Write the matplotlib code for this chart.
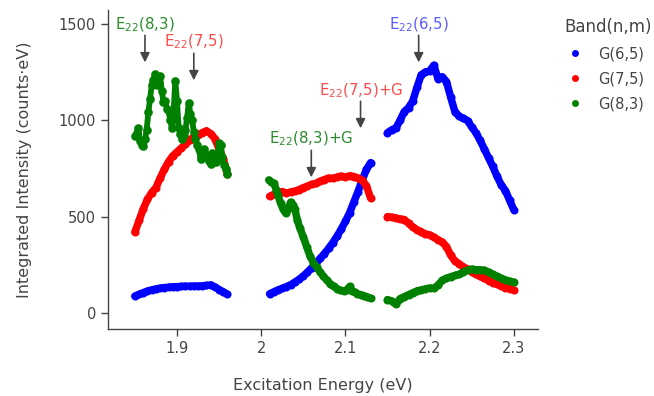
import matplotlib
matplotlib.use("Agg")
import matplotlib.pyplot as plt
from matplotlib.lines import Line2D

# excitation energy grids (eV) for the three laser windows
e_w1 = [1.850, 1.855, 1.860, 1.865, 1.870, 1.875, 1.880, 1.885, 1.890, 1.895, 1.900, 1.905,
        1.910, 1.915, 1.920, 1.925, 1.930, 1.935, 1.940, 1.945, 1.950, 1.955, 1.960]
e_w2 = [2.010, 2.015, 2.020, 2.025, 2.030, 2.035, 2.040, 2.045, 2.050, 2.055, 2.060, 2.065, 2.070,
        2.075, 2.080, 2.085, 2.090, 2.095, 2.100, 2.105, 2.110, 2.115, 2.120, 2.125, 2.130]
e_w3 = [2.150, 2.155, 2.160, 2.165, 2.170, 2.175, 2.180, 2.185, 2.190, 2.195, 2.200, 2.205, 2.210,
        2.215, 2.220, 2.225, 2.230, 2.235, 2.240, 2.245, 2.250, 2.255, 2.260, 2.265, 2.270, 2.275,
        2.280, 2.285, 2.290, 2.295, 2.300]

# G(6,5)
g65_w1 = [88, 97, 106, 114, 120, 125, 129, 132, 134, 136, 137, 138,
          139, 139, 140, 140, 141, 143, 146, 135, 122, 110, 97]
g65_w2 = [100, 110, 120, 128, 137, 147, 160, 175, 192, 212, 235, 258, 283,
          308, 335, 365, 398, 435, 475, 520, 575, 630, 690, 745, 780]
g65_w3 = [935, 950, 960, 1000, 1045, 1065, 1100, 1170, 1235, 1250, 1255, 1285, 1215,
          1225, 1200, 1120, 1045, 1020, 1010, 998, 965, 935, 895, 850, 805, 760,
          710, 665, 635, 585, 535]

# G(7,5)
g75_w1 = [420, 480, 540, 590, 625, 650, 700, 745, 785, 815, 835, 855,
          875, 895, 915, 925, 935, 945, 930, 905, 850, 800, 720]
g75_w2 = [605, 615, 625, 630, 622, 628, 632, 640, 650, 658, 668, 672, 683,
          692, 700, 698, 705, 710, 705, 712, 708, 700, 688, 660, 595]
g75_w3 = [500, 497, 492, 488, 485, 465, 445, 432, 422, 410, 405, 393, 380,
          368, 345, 300, 270, 255, 240, 228, 215, 200, 190, 180, 168, 158,
          150, 140, 132, 126, 120]

# G(8,3) (noisier, own grids in the first two windows)
e83_w1 = [1.850, 1.852, 1.854, 1.856, 1.858, 1.860, 1.862, 1.864, 1.866, 1.868, 1.870, 1.872,
          1.874, 1.876, 1.878, 1.880, 1.882, 1.884, 1.886, 1.888, 1.890, 1.892, 1.894, 1.896,
          1.898, 1.900, 1.902, 1.904, 1.906, 1.908, 1.910, 1.912, 1.914, 1.916, 1.918, 1.920,
          1.922, 1.924, 1.926, 1.928, 1.930, 1.932, 1.934, 1.936, 1.938, 1.940, 1.942, 1.944,
          1.946, 1.948, 1.950, 1.952, 1.954, 1.956, 1.958, 1.960]
g83_w1 = [920, 935, 960, 890, 870, 865, 900, 950, 1040, 1110, 1180, 1210,
          1240, 1180, 1200, 1230, 1150, 1095, 1100, 1060, 1050, 1000, 960, 1040,
          1205, 1100, 960, 930, 900, 925, 950, 1010, 1090, 1030, 1000, 940,
          900, 870, 850, 800, 830, 850, 810, 820, 790, 775, 830, 800,
          785, 800, 880, 870, 810, 770, 745, 720]
e83_w2 = [2.009, 2.012, 2.015, 2.018, 2.020, 2.023, 2.026, 2.029, 2.032, 2.035, 2.038, 2.040,
          2.043, 2.046, 2.050, 2.054, 2.058, 2.062, 2.066, 2.070, 2.074, 2.078, 2.082, 2.086,
          2.090, 2.094, 2.098, 2.102, 2.105, 2.108, 2.111, 2.114, 2.118, 2.122, 2.126, 2.130]
g83_w2 = [690, 680, 672, 640, 610, 570, 540, 518, 540, 575, 560, 540,
          480, 440, 395, 345, 295, 262, 238, 212, 190, 170, 152, 138,
          127, 118, 115, 120, 138, 115, 108, 100, 96, 90, 84, 76]
g83_w3 = [70, 62, 45, 75, 85, 95, 105, 115, 120, 125, 130, 128, 145,
          170, 180, 188, 195, 200, 212, 222, 228, 225, 224, 222, 212, 200,
          190, 180, 172, 165, 160]

series = [
    ("G(6,5)", "#0000ff", [(e_w1, g65_w1), (e_w2, g65_w2), (e_w3, g65_w3)]),
    ("G(7,5)", "#ff0000", [(e_w1, g75_w1), (e_w2, g75_w2), (e_w3, g75_w3)]),
    ("G(8,3)", "#008000", [(e83_w1, g83_w1), (e83_w2, g83_w2), (e_w3, g83_w3)]),
]

# peak labels: text, colour, energy, intensity at arrow tip
peaks = [
    ("E$_{22}$(8,3)", "#2a8c2a", 1.862, 1300),
    ("E$_{22}$(7,5)", "#ff4a4a", 1.920, 1207),
    ("E$_{22}$(8,3)+G", "#2a8c2a", 2.0595, 704),
    ("E$_{22}$(7,5)+G", "#ff4a4a", 2.118, 958),
    ("E$_{22}$(6,5)", "#5a5aff", 2.187, 1300),
]

grey = "#444444"
plt.rcParams["font.family"] = "DejaVu Sans"
plt.rcParams["mathtext.fontset"] = "dejavusans"

fig = plt.figure(figsize=(6.54, 3.96), dpi=100)
ax = fig.add_axes([0.165, 0.169, 0.658, 0.806])

for name, col, parts in series:
    for k, (xs, ys) in enumerate(parts):
        noisy = name == "G(8,3)" and k == 0
        ax.plot(xs, ys, color=col, lw=4.2 if noisy else 5.4, marker="o",
                ms=6.2 if noisy else 5.8, mec=col, mew=0,
                solid_capstyle="round", solid_joinstyle="round")

for txt, col, x, y in peaks:
    ax.annotate("", xy=(x, y), xytext=(0, 27), textcoords="offset pixels",
                arrowprops=dict(arrowstyle="-|>", color=grey, lw=1.2,
                                mutation_scale=14, shrinkA=0, shrinkB=0))
    ax.annotate(txt, xy=(x, y), xytext=(0, 38), textcoords="offset pixels",
                ha="center", va="center", color=col, fontsize=10.8)

ax.set_xlim(1.818, 2.329)
ax.set_ylim(-83, 1572)
ax.set_xticks([1.9, 2.0, 2.1, 2.2, 2.3])
ax.set_xticklabels(["1.9", "2", "2.1", "2.2", "2.3"])
ax.set_yticks([0, 500, 1000, 1500])
ax.set_xlabel("Excitation Energy (eV)", fontsize=11.5, color=grey, labelpad=16)
ax.set_ylabel("Integrated Intensity (counts·eV)", fontsize=11.5, color=grey, labelpad=19)
ax.tick_params(colors=grey, labelsize=10.5, length=5, width=1)
for s in ["top", "right"]:
    ax.spines[s].set_visible(False)
for s in ["left", "bottom"]:
    ax.spines[s].set_color(grey)
    ax.spines[s].set_linewidth(1)

handles = [Line2D([], [], ls="", marker="o", ms=5, color=c, mew=0) for _, c, _ in series]
leg = ax.legend(handles, [n for n, _, _ in series], title="Band(n,m)",
                loc="upper left", bbox_to_anchor=(0.852, 0.972), bbox_transform=fig.transFigure,
                frameon=False, fontsize=10.5, title_fontsize=12, handlelength=1.4,
                handletextpad=0.9, labelspacing=0.68, borderpad=0, alignment="left")
for t in leg.get_texts():
    t.set_color(grey)
leg.get_title().set_color(grey)

fig.savefig("out.png", dpi=100)
